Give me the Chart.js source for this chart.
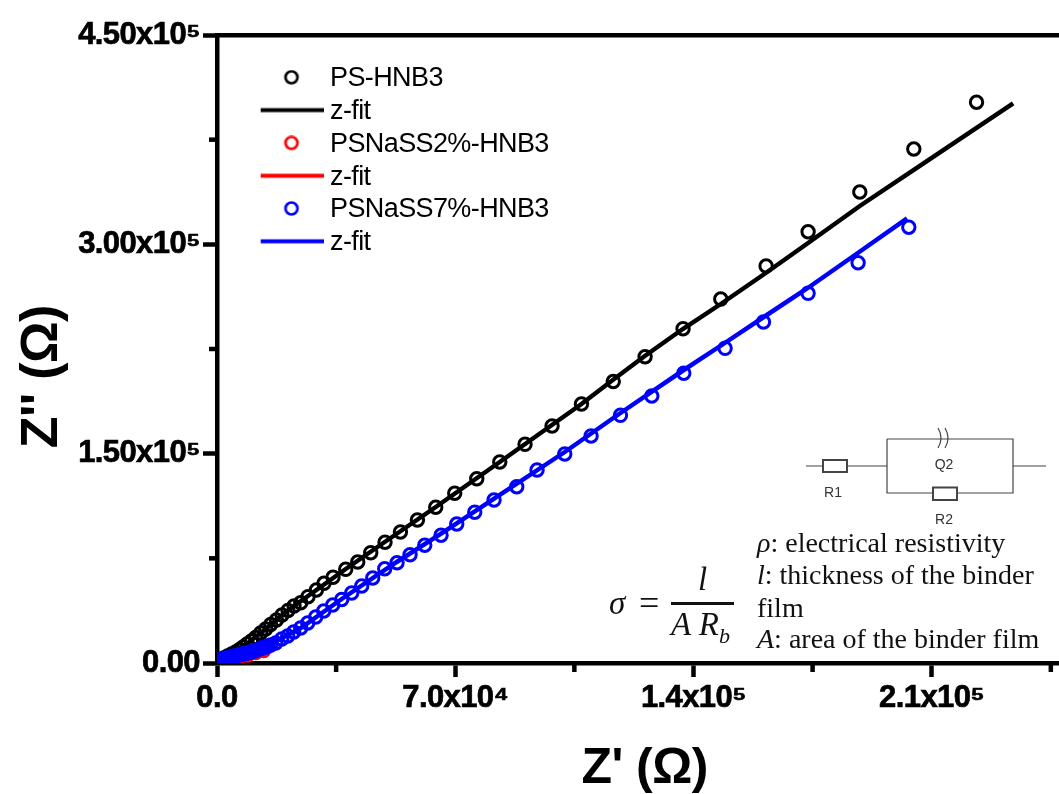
<!DOCTYPE html>
<html>
<head>
<meta charset="utf-8">
<title>Nyquist plot</title>
<script src="https://cdn.jsdelivr.net/npm/chart.js@4/dist/chart.umd.min.js"></script>
<style>
  html, body { margin:0; padding:0; background:#fff; }
  #wrap { position:relative; width:1059px; height:794px; overflow:hidden; }
  canvas { position:absolute; left:0; top:0; }
  .note { position:absolute; font-family:"Liberation Serif",serif; font-size:28px; line-height:32px; color:#111; white-space:nowrap; }
  .math { position:absolute; font-family:"Liberation Serif",serif; font-style:italic; font-size:33px; line-height:32px; color:#111; white-space:nowrap; }
  #circuit { position:absolute; left:0; top:0; }
  #circuit text { font-family:"Liberation Sans",sans-serif; font-size:14px; fill:#333; text-anchor:middle; }
</style>
</head>
<body>
<div id="wrap">
  <canvas id="chart" width="1059" height="794"></canvas>

  <svg id="circuit" width="1059" height="794">
    <g fill="none" stroke="#444" stroke-width="1.2">
      <path d="M806 466H823M847 466H887M887 439H1013V493H957M933 493H887V439M1013 466H1046"/>
      <rect x="823" y="460" width="24" height="12" stroke-width="2"/>
      <rect x="933" y="487.5" width="24" height="12.5" stroke-width="2"/>
      <path d="M938 428Q944 438 938 448M945 428Q951 438 945 448"/>
    </g>
    <text x="833" y="497">R1</text>
    <text x="944" y="469">Q2</text>
    <text x="944" y="524">R2</text>
  </svg>

  <div class="note" style="left:757px;top:527px"><i>ρ</i>: electrical resistivity</div>
  <div class="note" style="left:757px;top:559px"><i>l</i>: thickness of the binder</div>
  <div class="note" style="left:757px;top:592px">film</div>
  <div class="note" style="left:757px;top:623px"><i>A</i>: area of the binder film</div>

  <div class="math" style="left:609px;top:587px">σ</div>
  <div class="math" style="left:639px;top:587px;font-style:normal;font-size:36px">=</div>
  <div class="math" style="left:698px;top:563px">l</div>
  <div style="position:absolute;left:671px;top:602px;width:63px;height:2.5px;background:#111"></div>
  <div class="math" style="left:671px;top:608px">A R<sub style="font-size:22px;line-height:0">b</sub></div>
</div>

<script>
// ticks and tick labels
const xTicksAll = [0, 35000, 70000, 105000, 140000, 175000, 210000, 245000];
const yTicksAll = [0, 75000, 150000, 225000, 300000, 375000, 450000];
const xTickValues = [0, 70000, 140000, 210000];
const xTickLabels = ['0.0', '7.0x10⁴', '1.4x10⁵', '2.1x10⁵'];
const yTickValues = [0, 150000, 300000, 450000];
const yTickLabels = ['0.00', '1.50x10⁵', '3.00x10⁵', '4.50x10⁵'];

// PS-HNB3, measured points
const psX = [223170,204740,188870,173680,161340,148020,136940,125780,116430,107090,98450,90510,83080,76320,69850,64270,58890,53900,49370,45170,41350,37820,34090,31440,29210,26740,24600,22630,20870,19100,17460,15780,14310,12840,11370,10110,8880,7700,6670,5500,4320,3140,1970,790,210];
const psY = [401780,368310,337500,309050,284470,260830,239550,219480,201710,185590,169830,156710,144030,132060,121600,111570,102470,93870,86490,79040,72370,67140,61410,57110,52310,47510,43210,40840,37620,34400,30810,27590,24360,21500,18270,15760,13610,11470,9670,7880,6450,5020,3580,2150,1430];
const psFitX = [233920,204740,188870,173680,161250,148020,136860,125690,116290,107090,83080,64270,49280,37820,29210,20780,12840,6670,0];
const psFitY = [401050,353410,327470,300960,279460,257250,239330,219980,202790,185590,144030,111780,86700,67360,52310,37620,21500,9670,0];

// PSNaSS2%-HNB3, almost entirely hidden under the blue series
const ss2X = [210,2260,4320,6670,9020,11370,13720];
const ss2Y = [1430,2510,3220,4660,5730,7520,8960];
const ss2FitX = [0,4320,9020,13720];
const ss2FitY = [0,3220,5730,8960];

// PSNaSS7%-HNB3, the low end is a solid blob of overlapping markers
const ss7X = [203270,188370,173680,160570,149290,137150,127750,118550,109910,102180,94040,88070,81400,75730,70440,65830,61040,56720,52900,49280,45760,42520,39580,36650,34000,31360,29010,26650,24600,22540,20780,19010,17250,15780,15050,14310,13580,12840,12110,11370,10640,9900,9320,8730,8140,7550,6960,6380,5790,5200,4610,4030,3440,2850,2260,1680,790,210];
const ss7Y = [312210,286840,264910,244350,225500,207590,191320,177490,162660,149760,138300,126330,116800,107990,99600,91510,84340,77600,71870,67570,60910,55180,50160,45500,41560,37260,32960,28660,25080,22210,19350,17200,14330,12900,12180,11470,10890,10390,9670,8960,8380,7880,7520,7170,6810,6450,6090,5730,5370,5020,4660,4300,3940,3580,3220,2870,2150,1790];
const ss7FitX = [202770,188280,173590,160660,149200,137150,118550,102180,81310,65740,52810,36650,24600,14310,5200,0];
const ss7FitY = [318650,293790,268710,247930,229300,209950,179140,151190,117520,92440,72370,45860,25080,11470,5020,0];

const pts = (xs, ys) => xs.map((x, i) => ({ x, y: ys[i] }));
const BLACK = '#000', RED = '#ff0000', BLUE = '#0000ff';

const scatter = (label, xs, ys, color, order) => ({
  label, data: pts(xs, ys), order, showLine: false,
  borderColor: color, backgroundColor: 'transparent',
  pointRadius: 6.2, pointBorderWidth: 3, pointBackgroundColor: 'transparent', pointBorderColor: color
});
const fit = (xs, ys, color, order) => ({
  label: 'z-fit', data: pts(xs, ys), order, showLine: true,
  borderColor: color, borderWidth: 4.5, pointRadius: 0, tension: 0, fill: false
});

// legend samples are little canvases so a 64px line and a round marker share one box width
function sample(kind, color) {
  const c = document.createElement('canvas');
  c.width = 64; c.height = 18;
  const g = c.getContext('2d');
  g.strokeStyle = color;
  if (kind === 'line') {
    g.lineWidth = 4; g.beginPath(); g.moveTo(0, 7.5); g.lineTo(64, 7.5); g.stroke();
  } else {
    g.lineWidth = 2.7; g.beginPath(); g.arc(32, 7.5, 6, 0, Math.PI * 2); g.stroke();
  }
  return c;
}

const axisPlugin = {
  id: 'axisExtras',
  beforeDraw(chart) { chart.ctx.letterSpacing = '-0.6px'; },
  afterLayout(chart) {
    // keep the legend where the figure has it
    chart.legend.left = 260.7;
    chart.legend.top = 59.5;
  },
  afterDraw(chart) {
    // minor ticks are shorter than the major ones
    const { ctx, scales: { x, y } } = chart;
    ctx.save();
    ctx.strokeStyle = BLACK;
    ctx.lineWidth = 4.5;
    x.ticks.forEach(t => {
      if (xTickValues.includes(t.value)) return;
      const px = x.getPixelForValue(t.value);
      ctx.beginPath(); ctx.moveTo(px, y.bottom); ctx.lineTo(px, y.bottom + 9); ctx.stroke();
    });
    y.ticks.forEach(t => {
      if (yTickValues.includes(t.value)) return;
      const py = y.getPixelForValue(t.value);
      ctx.beginPath(); ctx.moveTo(x.left, py); ctx.lineTo(x.left - 8, py); ctx.stroke();
    });
    ctx.restore();
  }
};

new Chart(document.getElementById('chart'), {
  type: 'scatter',
  data: {
    datasets: [
      scatter('PS-HNB3', psX, psY, BLACK, 6),
      fit(psFitX, psFitY, BLACK, 5),
      scatter('PSNaSS2%-HNB3', ss2X, ss2Y, RED, 4),
      fit(ss2FitX, ss2FitY, RED, 3),
      scatter('PSNaSS7%-HNB3', ss7X, ss7Y, BLUE, 2),
      fit(ss7FitX, ss7FitY, BLUE, 1)
    ]
  },
  options: {
    responsive: false,
    animation: false,
    layout: { autoPadding: false, padding: { top: 35, right: 0, left: 0, bottom: 0 } },
    plugins: {
      title: { display: false },
      tooltip: { enabled: false },
      legend: {
        position: 'chartArea',
        align: 'start',
        labels: {
          usePointStyle: true,
          pointStyleWidth: 50,
          padding: 5.8,
          color: '#000',
          font: { family: '"Liberation Sans"', size: 27 },
          generateLabels: chart => chart.data.datasets.map((d, i) => ({
            text: d.label,
            datasetIndex: i,
            fontColor: '#000',
            lineWidth: 0,
            pointStyle: sample(d.showLine ? 'line' : 'circle', d.borderColor)
          }))
        }
      }
    },
    scales: {
      x: {
        type: 'linear', position: 'bottom', min: 0, max: 247400,
        afterBuildTicks: s => { s.ticks = xTicksAll.map(value => ({ value })); },
        afterFit: s => { s.height = 131; s.paddingRight = 0; },
        border: { color: BLACK, width: 4.5 },
        grid: {
          drawOnChartArea: false, tickLength: 14, tickWidth: 4.5,
          tickColor: c => xTickValues.includes(c.tick.value) ? BLACK : 'transparent'
        },
        ticks: {
          autoSkip: false, maxRotation: 0, padding: 3, color: BLACK,
          textStrokeColor: BLACK, textStrokeWidth: 0.7,
          font: { family: '"Liberation Sans"', size: 31, weight: 'bold' },
          callback: v => { const i = xTickValues.indexOf(v); return i < 0 ? '' : xTickLabels[i]; }
        },
        title: {
          display: true, text: "\u00a0Z' (Ω)", color: BLACK, padding: { top: 0, bottom: 0 },
          font: { family: '"Liberation Sans"', size: 50, weight: 'bold', lineHeight: 1 }
        }
      },
      xTop: {
        type: 'linear', position: 'top', min: 0, max: 247400,
        border: { color: BLACK, width: 4.5 },
        grid: { drawOnChartArea: false, drawTicks: false },
        ticks: { display: false },
        afterFit: s => { s.height = 0; }
      },
      y: {
        type: 'linear', position: 'left', min: 0, max: 450000,
        afterBuildTicks: s => { s.ticks = yTicksAll.map(value => ({ value })); },
        afterFit: s => { s.width = 217; },
        border: { color: BLACK, width: 4.5 },
        grid: {
          drawOnChartArea: false, tickLength: 14, tickWidth: 4.5,
          tickColor: c => yTickValues.includes(c.tick.value) ? BLACK : 'transparent'
        },
        ticks: {
          autoSkip: false, padding: 3, color: BLACK,
          textStrokeColor: BLACK, textStrokeWidth: 0.7,
          font: { family: '"Liberation Sans"', size: 31, weight: 'bold' },
          callback: v => { const i = yTickValues.indexOf(v); return i < 0 ? '' : yTickLabels[i]; }
        },
        title: {
          display: true, text: "Z'' (Ω)\u00a0\u00a0\u00a0\u00a0", color: BLACK, padding: { top: 11, bottom: 0 },
          font: { family: '"Liberation Sans"', size: 52, weight: 'bold' }
        }
      }
    }
  },
  plugins: [axisPlugin]
});
</script>
</body>
</html>
